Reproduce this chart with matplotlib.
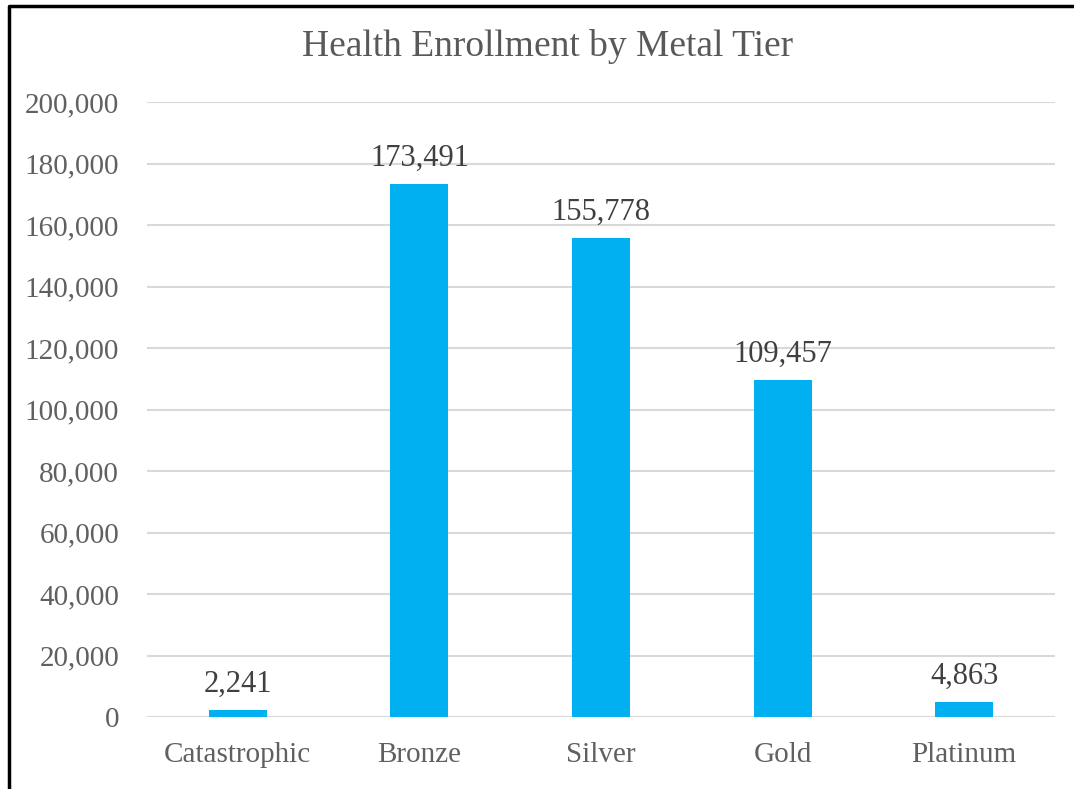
import matplotlib
matplotlib.use("Agg")
import matplotlib.pyplot as plt
from matplotlib.lines import Line2D
from matplotlib.ticker import FuncFormatter, MultipleLocator

categories = ["Catastrophic", "Bronze", "Silver", "Gold", "Platinum"]
enrollment = [2241, 173491, 155778, 109457, 4863]
title = "Health Enrollment by Metal Tier"

plt.rcParams['font.family'] = ['Liberation Serif', 'DejaVu Serif']

W, H = 1074, 789
fig = plt.figure(figsize=(W / 100, H / 100), dpi=100)
ax = fig.add_axes([147 / W, 1 - 717 / H, (1055 - 147) / W, (717 - 102) / H])

x = list(range(len(categories)))
bars = ax.bar(x, enrollment, width=0.32, color="#00B0F0", zorder=3)
ax.set_xlim(-0.5, len(categories) - 0.5)
ax.set_ylim(0, 200000)
ax.yaxis.set_major_locator(MultipleLocator(20000))
ax.yaxis.set_major_formatter(FuncFormatter(lambda v, p: f"{int(v):,}"))
ax.set_xticks(x)
ax.set_xticklabels(categories)
ax.grid(axis="y", color="#D9D9D9", linewidth=1.5, zorder=0)
for s in ax.spines.values():
    s.set_visible(False)
ax.tick_params(axis="both", length=0, labelsize=21, colors="#606060")
ax.tick_params(axis="y", pad=20)
ax.tick_params(axis="x", pad=18)

for xi, v in zip(x, enrollment):
    ax.annotate(f"{v:,}", (xi, v), xytext=(0, 8), textcoords="offset points",
                ha="center", va="bottom", fontsize=22, color="#404040")

fig.text((303 + 792) / 2 / W, 1 - 46 / H, title, ha="center", va="center",
         fontsize=27, color="#595959")

fig.add_artist(Line2D([9 / W, 9 / W, 1.0], [0, 1 - 6 / H, 1 - 6 / H],
                      transform=fig.transFigure, color="black", linewidth=2.5))

fig.savefig("out.png", dpi=100)
